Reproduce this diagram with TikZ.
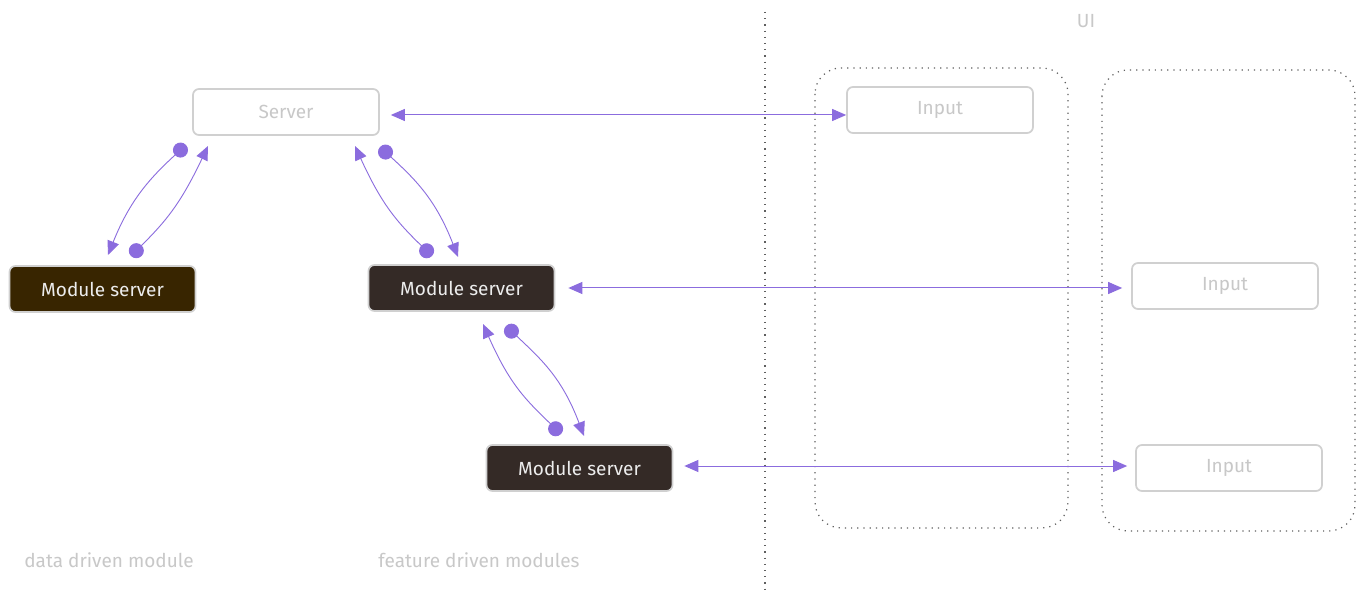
\documentclass[tikz,border=0pt]{standalone}
\usepackage{fontspec}
\setmainfont{Fira Sans}
\usetikzlibrary{arrows.meta}

\definecolor{flow}{RGB}{139,108,222}
\definecolor{pale}{RGB}{200,200,200}
\definecolor{edge}{RGB}{208,208,208}
\definecolor{dataMod}{RGB}{56,37,0}
\definecolor{featMod}{RGB}{52,42,38}
\definecolor{guide}{RGB}{95,95,95}
\definecolor{modText}{RGB}{236,236,236}

\tikzset{
  box/.style={draw=edge, line width=1.7pt, rounded corners=6pt,
    minimum width=186pt, minimum height=46pt, inner sep=0pt,
    font=\fontsize{19}{22}\selectfont},
  emptybox/.style={box, fill=white, text=pale},
  modbox/.style={box, text=modText},
  link/.style={draw=flow, line width=1pt,
    {Triangle[length=14pt,width=12pt]}-{Triangle[length=14pt,width=12pt]}},
  call/.style={draw=flow, line width=0.9pt,
    {Circle[length=15pt]}-{Triangle[length=14pt,width=12pt]}},
  guideline/.style={draw=guide, line width=1.2pt, dash pattern=on 1.2pt off 5pt},
  group/.style={guideline, rounded corners=26pt},
  caption/.style={text=pale, font=\fontsize{19}{22}\selectfont},
}

\begin{document}
\begin{tikzpicture}[x=1pt, y=-1pt]
  \useasboundingbox[fill=white] (0,0) rectangle (1365,601);

  % layer divider and UI column groups
  \coordinate (divTop) at (765,12);
  \coordinate (divBot) at (765,592);
  \draw[guideline] (divTop) -- (divBot);
  \draw[group] (815,68) rectangle (1068,528);
  \draw[group] (1102,70) rectangle (1355,531);
  \node[caption] (ui) at (1086,21) {UI};

  % server side
  \node[emptybox] (srv) at (286,112) {Server};
  \node[modbox, fill=dataMod] (mod1) at (102.5,289) {Module server};
  \node[modbox, fill=featMod] (mod2) at (461.5,288) {Module server};
  \node[modbox, fill=featMod] (mod3) at (579.5,468) {Module server};

  % UI inputs
  \node[emptybox] (in1) at (940,110) {Input};
  \node[emptybox] (in2) at (1225,286) {Input};
  \node[emptybox] (in3) at (1229,468) {Input};

  % captions
  \node[caption] (capData) at (109,560) {data driven module};
  \node[caption] (capFeat) at (479,560) {feature driven modules};

  % server <-> UI bindings
  \draw[link] ([shift={(11,3)}]srv.east) -- ([shift={(0,5)}]in1.west);
  \draw[link] ([shift={(13,0)}]mod2.east) -- ([shift={(-9,2)}]in2.west);
  \draw[link] ([shift={(11,-2)}]mod3.east) -- ([shift={(-8,-2)}]in3.west);

  % calls between server and modules
  \coordinate (aS) at (186,145);  \coordinate (aE) at (108,255);
  \coordinate (bS) at (131,256);  \coordinate (bE) at (208,146);
  \coordinate (cS) at (432,256);  \coordinate (cE) at (355,146);
  \coordinate (dS) at (380,147);  \coordinate (dE) at (458,257);
  \coordinate (eS) at (561,434);  \coordinate (eE) at (483,324);
  \coordinate (fS) at (506,326);  \coordinate (fE) at (584,436);

  \draw[call] (aS) .. controls (150,178) and (130,200) .. (aE);
  \draw[call] (bS) .. controls (165,222) and (180,205) .. (bE);
  \draw[call] (cS) .. controls (397,222) and (382,205) .. (cE);
  \draw[call] (dS) .. controls (416,180) and (436,200) .. (dE);
  \draw[call] (eS) .. controls (526,400) and (510,385) .. (eE);
  \draw[call] (fS) .. controls (542,360) and (562,378) .. (fE);
\end{tikzpicture}
\end{document}
